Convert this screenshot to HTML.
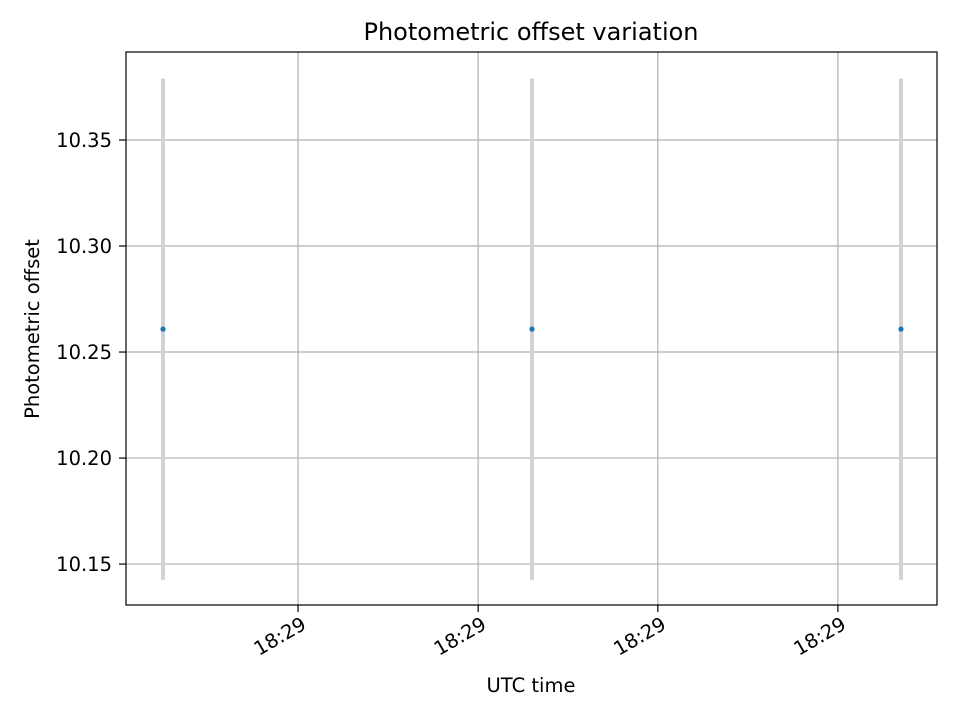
<!DOCTYPE html>
<html><head><meta charset="utf-8">
<style>
body{margin:0;background:#fff;}
svg{display:block;font-family:"DejaVu Sans","Liberation Sans",sans-serif;}
</style></head>
<body>
<svg id="chart" width="960" height="720" viewBox="0 0 960 720">
<text x="531" y="40" font-size="24" text-anchor="middle">Photometric offset variation</text>
<g id="grid"></g>
<g id="errs"></g>
<g id="pts"></g>
<rect x="126" y="52" width="811" height="553" fill="none" stroke="#000" stroke-width="1.2"/>
<g id="yticks"></g>
<g id="xticks"></g>
<text x="531" y="692" font-size="19.5" text-anchor="middle">UTC time</text>
<text transform="translate(39,329) rotate(-90)" font-size="19.5" text-anchor="middle">Photometric offset</text>
</svg>
<script>
const xValues=[0,1,2];
const yValues=[10.2608,10.2608,10.2608];
const yErrors=[0.1182,0.1182,0.1182];
const yTicks=[10.15,10.20,10.25,10.30,10.35];
const yTickLabels=["10.15","10.20","10.25","10.30","10.35"];
const xTicks=[0.366,0.854,1.341,1.829];
const xTickLabels=["18:29","18:29","18:29","18:29"];
const L=126,R=937,T=52,B=605;
const xMin=-0.1003,xMax=2.0976,yMin=10.1307,yMax=10.3915;
const sx=v=>L+(v-xMin)/(xMax-xMin)*(R-L);
const sy=v=>B-(v-yMin)/(yMax-yMin)*(B-T);
const NS="http://www.w3.org/2000/svg";
function mk(tag,attrs,parent){const e=document.createElementNS(NS,tag);for(const k in attrs)e.setAttribute(k,attrs[k]);document.getElementById(parent).appendChild(e);return e;}
yTicks.forEach((t,i)=>{
 const y=sy(t);
 const g=mk('line',{x1:L,x2:R,y1:y,y2:y,stroke:'#b0b0b0','stroke-width':1.2},'grid');
 
 
 const tk=mk('line',{x1:L-7,x2:L,y1:y,y2:y,stroke:'#000','stroke-width':1.2},'yticks');
 
 
 const tx=mk('text',{x:L-14,y:y+7,'font-size':19.5,'text-anchor':'end'},'yticks');
 tx.textContent=yTickLabels[i];
 
 
});
xTicks.forEach((t,i)=>{
 const x=sx(t);
 const g=mk('line',{x1:x,x2:x,y1:T,y2:B,stroke:'#b0b0b0','stroke-width':1.2},'grid');
 
 
 const tk=mk('line',{x1:x,x2:x,y1:B,y2:B+7,stroke:'#000','stroke-width':1.2},'xticks');
 
 
 const tx=mk('text',{transform:`translate(${x+2},${B+10}) rotate(-30)`,x:0,y:15,'font-size':19.5,'text-anchor':'end'},'xticks');
 tx.textContent=xTickLabels[i];
 
 
});
xValues.forEach((v,i)=>{
 const x=sx(v);
 const e=mk('line',{x1:x,x2:x,y1:sy(yValues[i]+yErrors[i]),y2:sy(yValues[i]-yErrors[i]),stroke:'#d3d3d3','stroke-width':4},'errs');
 
 
 const p=mk('circle',{cx:x,cy:sy(yValues[i]),r:2.6,fill:'#1f77b4'},'pts');
 
 
});
</script>
</body></html>
